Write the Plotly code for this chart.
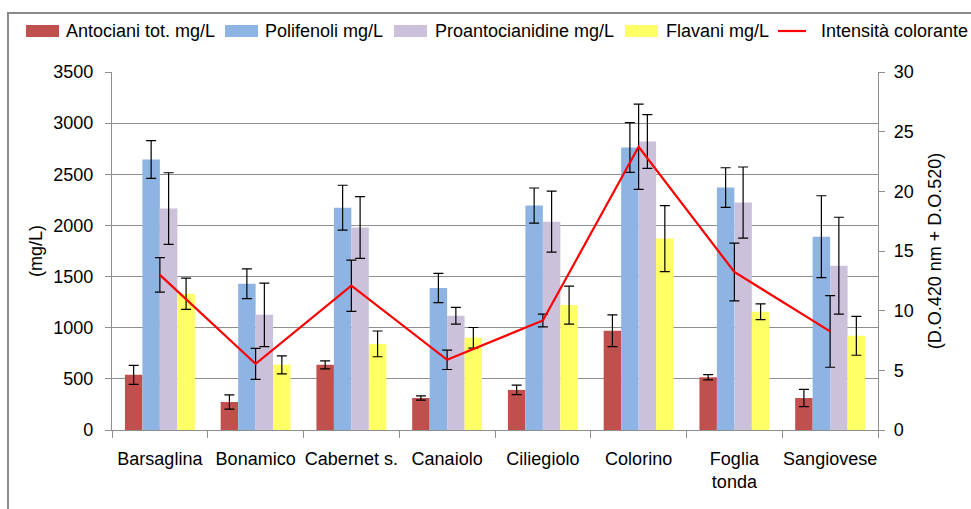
import plotly.graph_objects as go

categories = ["Barsaglina", "Bonamico", "Cabernet s.", "Canaiolo", "Ciliegiolo",
              "Colorino", "Foglia<br>tonda", "Sangiovese"]

antociani = [539, 274, 637, 313, 392, 970, 516, 313]
antociani_err = [92, 70, 39, 20, 46, 155, 26, 85]

polifenoli = [2645, 1430, 2174, 1388, 2194, 2762, 2370, 1890]
polifenoli_err = [185, 145, 219, 143, 172, 243, 194, 400]

proanto = [2165, 1126, 1979, 1117, 2037, 2821, 2223, 1606]
proanto_err = [350, 310, 302, 82, 298, 263, 348, 474]

flavani = [1332, 637, 842, 901, 1221, 1871, 1156, 921]
flavani_err = [153, 88, 126, 101, 186, 322, 77, 190]

intensita = [13.0, 5.54, 12.09, 5.88, 9.18, 23.73, 13.24, 8.26]
intensita_err = [1.45, 1.3, 2.15, 0.81, 0.53, 3.57, 2.42, 3.0]

left_ticks = [0, 500, 1000, 1500, 2000, 2500, 3000, 3500]
right_ticks = [0, 5, 10, 15, 20, 25, 30]

FONT = "Liberation Sans, Arial, sans-serif"
FS = 18
GRID = "#8f8f8f"

W, H = 971, 509
ML, MR, MT, MB = 112, W - 878, 72, H - 430
PW = W - ML - MR
PH = H - MT - MB


def sx(px):
    """pixel x -> paper x"""
    return (px - ML) / PW


def sy(py):
    """pixel y -> paper y"""
    return (H - MB - py) / PH


def err(arr):
    return dict(type="data", array=arr, visible=True, color="#000000",
                thickness=1.2, width=5)


fig = go.Figure()

bar_series = [
    ("Antociani tot. mg/L", antociani, antociani_err, "#C0504D"),
    ("Polifenoli mg/L", polifenoli, polifenoli_err, "#8EB4E3"),
    ("Proantocianidine mg/L", proanto, proanto_err, "#CCC1DA"),
    ("Flavani mg/L", flavani, flavani_err, "#FFFF66"),
]
line_name, line_color = "Intensità colorante", "#FF0000"

for name, vals, errs, col in bar_series:
    fig.add_trace(go.Bar(
        x=categories, y=vals, name=name, marker=dict(color=col, line=dict(width=0)),
        error_y=err(errs), showlegend=False, yaxis="y"))

fig.add_trace(go.Scatter(
    x=categories, y=intensita, name=line_name, mode="lines",
    line=dict(color=line_color, width=2.2), error_y=err(intensita_err),
    yaxis="y2", showlegend=False))

# ---- legend drawn as a single row across the top (as in the original) ----
legend_swatch_x = [26, 225, 394, 625, 778]
legend_text_x = [65, 264, 434, 665, 820]
LEG_Y = 31
shapes = []
annotations = []
for i, (name, _, _, col) in enumerate(bar_series):
    x0 = legend_swatch_x[i]
    shapes.append(dict(type="rect", xref="paper", yref="paper",
                       x0=sx(x0), x1=sx(x0 + 33), y0=sy(LEG_Y + 6), y1=sy(LEG_Y - 6),
                       fillcolor=col, line=dict(width=0)))
    annotations.append(dict(text=name, xref="paper", yref="paper", x=sx(legend_text_x[i]),
                            y=sy(LEG_Y), xanchor="left", yanchor="middle",
                            showarrow=False, font=dict(size=FS), borderpad=0))
x0 = legend_swatch_x[4]
shapes.append(dict(type="line", xref="paper", yref="paper",
                   x0=sx(x0), x1=sx(x0 + 28), y0=sy(LEG_Y), y1=sy(LEG_Y),
                   line=dict(color=line_color, width=2.2)))
annotations.append(dict(text=line_name, xref="paper", yref="paper", x=sx(legend_text_x[4]),
                        y=sy(LEG_Y), xanchor="left", yanchor="middle",
                        showarrow=False, font=dict(size=FS), borderpad=0))

# chart-area frame (left and top edges visible)
shapes.append(dict(type="rect", xref="paper", yref="paper", layer="below",
                   x0=sx(8), x1=sx(1000), y0=sy(540), y1=sy(13),
                   line=dict(color="#8a8a8a", width=2), fillcolor="rgba(0,0,0,0)"))

fig.update_layout(
    width=W, height=H,
    margin=dict(l=ML, r=MR, t=MT, b=MB, pad=0, autoexpand=False),
    paper_bgcolor="white", plot_bgcolor="white",
    font=dict(family=FONT, size=FS, color="#000000"),
    barmode="group", bargap=0.27, bargroupgap=0,
    showlegend=False,
    xaxis=dict(
        type="category", showgrid=False, showline=True, linecolor=GRID, linewidth=1.3,
        ticks="outside", tickson="boundaries", ticklen=7, tickcolor=GRID, tickwidth=1.3,
        tickfont=dict(size=FS), ticklabelstandoff=12, tickangle=0, automargin=False,
        range=[-0.5, len(categories) - 0.5]),
    yaxis=dict(
        range=[0, 3500], tickvals=left_ticks, showgrid=True, gridcolor=GRID, gridwidth=1.3,
        showline=True, linecolor=GRID, linewidth=1.3, ticks="outside", ticklen=6,
        tickcolor=GRID, tickwidth=1.3, zeroline=False, automargin=False,
        ticklabelstandoff=8,
        title=dict(text="(mg/L)", font=dict(size=FS), standoff=5)),
    yaxis2=dict(
        range=[0, 30], tickvals=right_ticks, overlaying="y", side="right", showgrid=False,
        showline=True, linecolor=GRID, linewidth=1.3, ticks="outside", ticklen=6,
        tickcolor=GRID, tickwidth=1.3, zeroline=False, automargin=False,
        ticklabelstandoff=5,
        title=dict(text="(D.O.420 nm + D.O.520)", font=dict(size=FS), standoff=15)),
    shapes=shapes,
    annotations=annotations,
)

fig.write_html(
    "out.html",
    config={"displayModeBar": False},
    post_script="document.body.style.margin='0';document.body.style.overflow='hidden';",
)
